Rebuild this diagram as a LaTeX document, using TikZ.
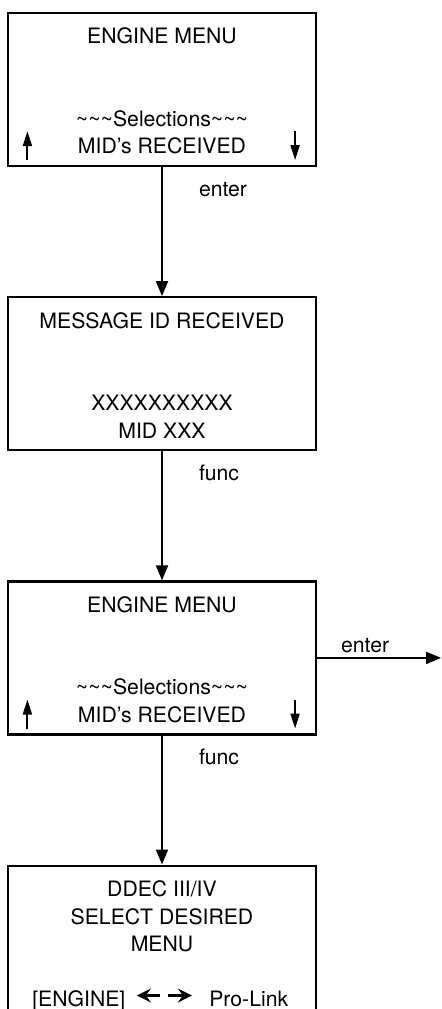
\documentclass[tikz,border=0pt]{standalone}
\usepackage{fontspec}
\setmainfont{TeX Gyre Heros}
\usepackage{tikz}
\usetikzlibrary{arrows.meta, positioning}

\begin{document}
\begin{tikzpicture}[
    x=0.5pt, y=-0.5pt,
    >=Triangle,
    screen/.style={draw, line width=1.1pt, minimum width=154pt, minimum height=76.5pt, inner sep=0pt},
    txt/.style={font=\fontsize{10.6}{13}\selectfont, anchor=base, inner sep=0pt},
    lbl/.style={font=\fontsize{10.6}{13}\selectfont, anchor=base west, inner sep=0pt},
    arr/.style={-{Triangle[length=7.5pt, width=6pt]}, line width=1pt},
    scroll/.style={-{Triangle[length=7.5pt, width=4.5pt]}, line width=1pt},
    pick/.style={-{Stealth[length=7pt, width=7pt, inset=2.5pt]}, line width=1.4pt},
]
\useasboundingbox (0,0) rectangle (442,1009);

% === Screens ===
\node[screen] (eng1) at (162,89.5) {};
\node[screen, below=64.5pt of eng1] (mid) {};
\node[screen, below=64.5pt of mid] (eng2) {};
\node[screen, below=64.5pt of eng2, minimum height=80pt] (ddec) {};

% === Engine menu (top) ===
\node[txt] (eng1a) at ([yshift=-16pt]eng1.north) {ENGINE MENU};
\node[txt] (eng1b) at ([yshift=-57.25pt]eng1.north) {\textasciitilde\textasciitilde\textasciitilde Selections\textasciitilde\textasciitilde\textasciitilde};
\node[txt] (eng1c) at ([yshift=-71pt]eng1.north) {MID’s RECEIVED};
\draw[scroll] ([xshift=10.25pt, yshift=3.5pt]eng1.south west) -- ++(0,-29);
\draw[scroll] ([xshift=-11pt, yshift=18pt]eng1.south east) -- ++(0,29);

% === Message ID ===
\node[txt] (mida) at ([yshift=-16pt]mid.north) {MESSAGE ID RECEIVED};
\node[txt] (midb) at ([yshift=-57.25pt]mid.north) {XXXXXXXXXX};
\node[txt] (midc) at ([yshift=-71pt]mid.north) {MID XXX};

% === Engine menu (again) ===
\node[txt] (eng2a) at ([yshift=-16pt]eng2.north) {ENGINE MENU};
\node[txt] (eng2b) at ([yshift=-57.25pt]eng2.north) {\textasciitilde\textasciitilde\textasciitilde Selections\textasciitilde\textasciitilde\textasciitilde};
\node[txt] (eng2c) at ([yshift=-71pt]eng2.north) {MID’s RECEIVED};
\draw[scroll] ([xshift=10.25pt, yshift=3.5pt]eng2.south west) -- ++(0,-29);
\draw[scroll] ([xshift=-11pt, yshift=18pt]eng2.south east) -- ++(0,29);

% === DDEC select ===
\node[txt] (ddeca) at ([yshift=-16pt]ddec.north) {DDEC III/IV};
\node[txt] (ddecb) at ([yshift=-29.75pt]ddec.north) {SELECT DESIRED};
\node[txt] (ddecc) at ([yshift=-43.5pt]ddec.north) {MENU};
\node[lbl] (ecu) at ([xshift=12.5pt, yshift=-71pt]ddec.north west) {[ENGINE]};
\node[lbl] (plink) at ([xshift=101pt, yshift=-71pt]ddec.north west) {Pro-Link};
\draw[pick] ([xshift=64pt, yshift=5.5pt]ecu.base west) -- ++(-23,0);
\draw[pick] ([xshift=68pt, yshift=5.5pt]ecu.base west) -- ++(24,0);

% === Key presses ===
\draw[arr] (eng1) -- (mid) node[lbl, pos=0.225, xshift=18pt] {enter};
\draw[arr] (mid) -- (eng2) node[lbl, pos=0.225, xshift=18pt] {func};
\draw[arr] (eng2) -- (ddec) node[lbl, pos=0.225, xshift=18pt] {func};

\coordinate (exit) at ([xshift=62pt]eng2.east);
\draw[arr] (eng2) -- (exit) node[lbl, pos=0, xshift=11.5pt, yshift=2.5pt] {enter};

\end{tikzpicture}
\end{document}
